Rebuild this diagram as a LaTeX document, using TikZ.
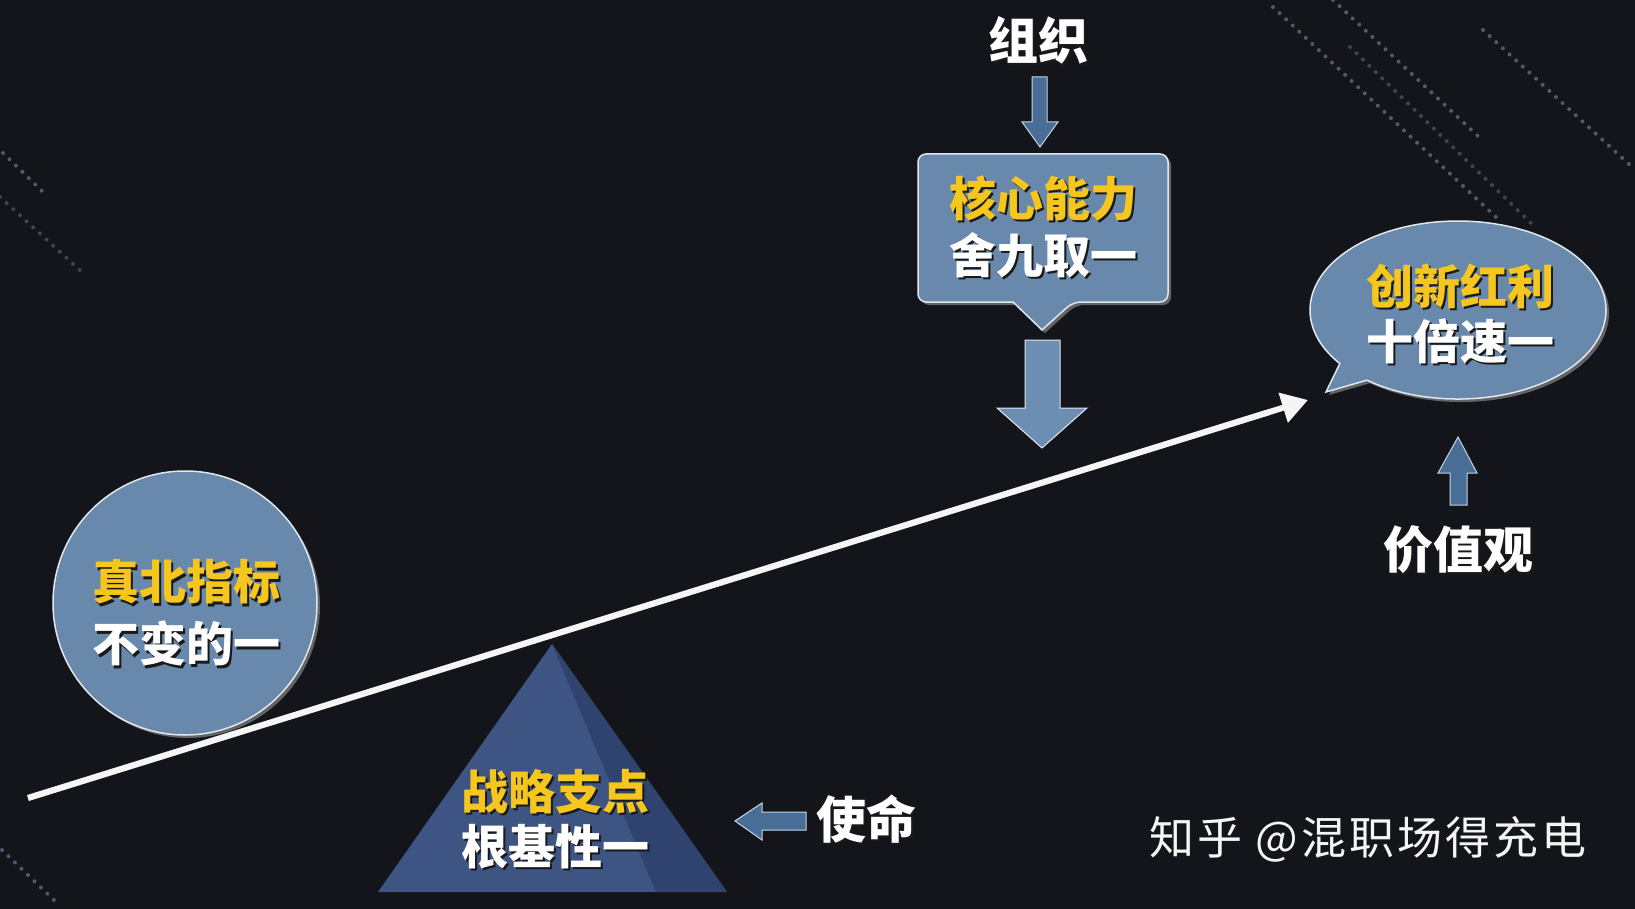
\documentclass[tikz,border=0pt]{standalone}
\usepackage{fontspec}
\newfontfamily\cjk{Noto Sans CJK SC}
\usetikzlibrary{arrows.meta,shadows,calc}
\definecolor{bg}{RGB}{19,21,26}
\definecolor{panel}{RGB}{104,136,172}
\definecolor{ylw}{RGB}{244,198,30}
\definecolor{arrowblue}{RGB}{72,110,152}
\definecolor{arrowlight}{RGB}{108,142,178}
\definecolor{pyrL}{RGB}{62,84,130}
\definecolor{pyrR}{RGB}{48,67,110}
\definecolor{dotc}{RGB}{80,90,108}
\newcommand\shtxt[2]{\rlap{\kern2.5pt\raisebox{-2.5pt}{\textcolor{black!90}{#2}}}\textcolor{#1}{#2}}
\begin{document}
\begin{tikzpicture}[x=1pt,y=-1pt,
  lbl/.style={font=\cjk\bfseries\fontsize{50}{56}\selectfont, align=center, inner sep=0pt},
  panelshape/.style={fill=panel, draw=white!80!panel, line width=1.5pt,
     drop shadow={shadow xshift=3pt, shadow yshift=-3pt, fill=gray!80, opacity=0.6}},
  barrow/.style={fill=arrowblue, draw=white!70!arrowblue, line width=1pt, line join=miter},
  dotline/.style={draw=dotc, line width=4pt, line cap=round, dash pattern=on 0pt off 9pt},
]
\fill[bg] (0,0) rectangle (1635,909);
\useasboundingbox (0,0) rectangle (1635,909);

% dotted background lines
\draw[dotline] (1273,7) -- (1497,218);
\draw[dotline] (1333,0) -- (1480,138);
\draw[dotline, draw=dotc!70!bg] (1350,47) -- (1535,227);
\draw[dotline] (1483,30) -- (1632,167);
\draw[dotline] (3,153) -- (43,192);
\draw[dotline, draw=dotc!70!bg] (0,197) -- (83,273);
\draw[dotline] (2,850) -- (57,903);

% pyramid
\fill[pyrL] (552,644) -- (378,892) -- (727,892) -- cycle;
\fill[pyrR] (552,644) -- (656,892) -- (727,892) -- cycle;
\node[lbl, font=\cjk\bfseries\fontsize{47}{55}\selectfont] (pivot) at (555,820)
  {\shtxt{ylw}{战略支点}\\\shtxt{white}{根基性一}};

% circle
\node[circle, minimum size=264pt, panelshape] (northc) at (185,603) {};
\node[lbl, font=\cjk\bfseries\fontsize{47}{62}\selectfont] (north) at (186,614)
  {\shtxt{ylw}{真北指标}\\\shtxt{white}{不变的一}};

% core box with pointer
\path[panelshape] [rounded corners=8pt] (918,154) -- (1168,154) -- (1168,302) -- (1073,302)
  [sharp corners] -- (1042,330) -- (1013,302) [rounded corners=8pt] -- (918,302) -- cycle;
\node[lbl, font=\cjk\bfseries\fontsize{47}{57}\selectfont] (core) at (1043,228)
  {\shtxt{ylw}{核心能力}\\\shtxt{white}{舍九取一}};

% speech bubble
\path[panelshape] (1326,392) -- (1339.8,363.6)
  arc[start angle=143, end angle=488, x radius=148, y radius=89] -- cycle;
\node[lbl, font=\cjk\bfseries\fontsize{47}{55}\selectfont] (bonus) at (1460,315)
  {\shtxt{ylw}{创新红利}\\\shtxt{white}{十倍速一}};

% labels
\node[lbl] (org) at (1038,42) {\shtxt{white}{组织}};
\node[lbl] (values) at (1458,551) {\shtxt{white}{价值观}};
\node[lbl] (mission) at (866,820) {\shtxt{white}{使命}};

% block arrows
\path[barrow] (1032,77) -- (1047,77) -- (1047,122) -- (1058,122) -- (1040,147)
  -- (1022,122) -- (1032,122) -- cycle;
\path[barrow, fill=arrowlight, draw=white!80!arrowlight] (1025,340) -- (1060,340) -- (1060,408)
  -- (1087,408) -- (1042,448) -- (997,408) -- (1025,408) -- cycle;
\path[barrow] (1450,505) -- (1467,505) -- (1467,473) -- (1477,473) -- (1458,437)
  -- (1438,473) -- (1450,473) -- cycle;
\path[barrow] (806,812) -- (806,830) -- (762,830) -- (762,840) -- (735,821)
  -- (762,803) -- (762,812) -- cycle;

% main lever arrow
\coordinate (lstart) at (28,798);
\coordinate (ltip) at (1308,400);
\draw[gray!60, line width=6pt, shift={(1,3)}] (lstart) -- ($(ltip)!0.03!(lstart)$);
\draw[white!92!gray, line width=6pt, -{Triangle[length=26pt,width=30pt]}] (lstart) -- (ltip);

% watermark
\node[font=\cjk\fontsize{45}{50}\selectfont\addfontfeature{LetterSpace=7}, text=white!92!gray, inner sep=0pt] (wm)
  at (1368,839) {知乎 @混职场得充电};
\end{tikzpicture}
\end{document}
